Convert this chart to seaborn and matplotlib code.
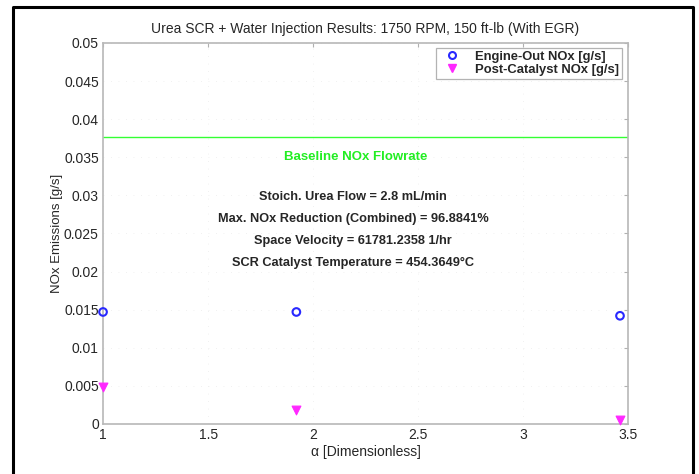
import matplotlib
matplotlib.use("Agg")
import matplotlib.pyplot as plt
import seaborn as sns
import pandas as pd
from matplotlib.lines import Line2D

sns.set_style("white")
plt.rcParams["font.family"] = ["Liberation Sans", "DejaVu Sans"]

# Measured data
alpha = [1.0, 1.92, 3.46]
engine_out_nox = [0.0147, 0.0147, 0.0142]
post_catalyst_nox = [0.0048, 0.0019, 0.0005]
baseline_nox = 0.0377

title = "Urea SCR + Water Injection Results: 1750 RPM, 150 ft-lb (With EGR)"
info_lines = [
    "Stoich. Urea Flow = 2.8 mL/min",
    "Max. NOx Reduction (Combined) = 96.8841%",
    "Space Velocity = 61781.2358 1/hr",
    "SCR Catalyst Temperature = 454.3649°C",
]
series_names = ["Engine-Out NOx [g/s]", "Post-Catalyst NOx [g/s]"]
xticks = [1, 1.5, 2, 2.5, 3, 3.5]
xticklabels = ["1", "1.5", "2", "2.5", "3", "3.5"]
yticks = [0, 0.005, 0.01, 0.015, 0.02, 0.025, 0.03, 0.035, 0.04, 0.045, 0.05]
yticklabels = ["0", "0.005", "0.01", "0.015", "0.02", "0.025", "0.03", "0.035", "0.04", "0.045", "0.05"]

df = pd.DataFrame({
    "alpha": alpha * 2,
    "nox": engine_out_nox + post_catalyst_nox,
    "series": [series_names[0]] * 3 + [series_names[1]] * 3,
})

TXT = "#262626"
BLUE = "#2828ff"
MAGENTA = "#ff28ff"

fig = plt.figure(figsize=(6.99, 4.74), dpi=100)
ax = fig.add_axes([0.1474, 0.1055, 0.7516, 0.8038])

eo = df[df["series"] == series_names[0]]
pc = df[df["series"] == series_names[1]]
sns.scatterplot(data=eo, x="alpha", y="nox", ax=ax, marker="o", s=30,
                facecolors="none", edgecolor=BLUE, linewidth=1.5,
                legend=False, clip_on=False, zorder=5)
sns.scatterplot(data=pc, x="alpha", y="nox", ax=ax, marker="v", s=40,
                color=MAGENTA, edgecolor=MAGENTA, linewidth=0.8,
                legend=False, clip_on=False, zorder=5)

ax.axhline(baseline_nox, color="#33ff33", linewidth=1.0)

ax.set_xlim(1, 3.5)
ax.set_ylim(0, 0.05)
ax.set_xticks(xticks)
ax.set_xticklabels(xticklabels)
ax.set_yticks(yticks)
ax.set_yticklabels(yticklabels)
ax.tick_params(direction="in", length=3, color="#b0b0b0", labelsize=10,
               labelcolor=TXT, pad=3, top=True, right=True)
for sp in ax.spines.values():
    sp.set_color("#b8b8b8")
    sp.set_linewidth(1.2)
ax.grid(True, color="#ececec", linestyle=(0, (1, 8)), linewidth=0.6)

fig.text(0.5225, 1 - 29 / 474, title, fontsize=10, color=TXT,
         ha="center", va="center")
ax.set_xlabel("α [Dimensionless]", fontsize=10, color=TXT, labelpad=2)
ax.set_ylabel("NOx Emissions [g/s]", fontsize=9.5, color=TXT, labelpad=1)

ax.text(2.2, 0.0350, "Baseline NOx Flowrate", color="#22ee22", fontsize=9.5,
        ha="center", va="center", fontweight="bold")
for i, line in enumerate(info_lines):
    ax.text(2.19, 0.0298 - i * 0.0029, line, color=TXT, fontsize=9.2,
            ha="center", va="center", fontweight="bold")

handles = [
    Line2D([], [], linestyle="none", marker="o", markersize=5, markerfacecolor="none",
           markeredgecolor=BLUE, markeredgewidth=1.5),
    Line2D([], [], linestyle="none", marker="v", markersize=6, color=MAGENTA),
]
leg = ax.legend(handles, series_names,
                loc="upper right", bbox_to_anchor=(0.988, 0.988),
                prop={"size": 9.4, "weight": "bold"}, frameon=True, fancybox=False,
                borderaxespad=0.0, handletextpad=0.8, labelspacing=0.05,
                borderpad=0.25, handlelength=1.9)
leg.get_frame().set_edgecolor("#a0a0a0")
leg.get_frame().set_linewidth(0.9)
for t in leg.get_texts():
    t.set_color(TXT)

# outer frame around the figure
W, H = 699, 474
frame_x = [13 / W, 13 / W, 693 / W, 693 / W]
frame_y = [0.0, 1 - 7 / H, 1 - 7 / H, 0.0]
fig.add_artist(Line2D(frame_x, frame_y, color="black", linewidth=2.2,
                      transform=fig.transFigure))

fig.savefig("out.png", dpi=100)
